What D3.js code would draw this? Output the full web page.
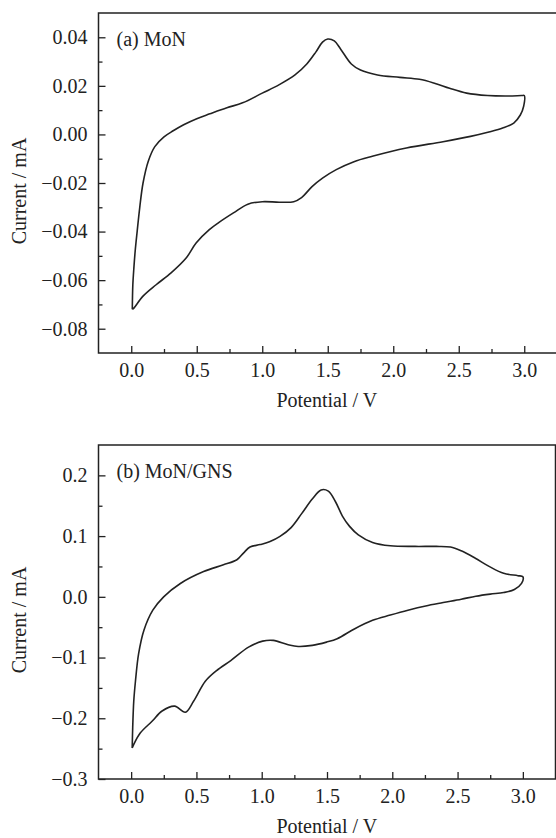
<!DOCTYPE html>
<html>
<head>
<meta charset="utf-8">
<script src="https://cdnjs.cloudflare.com/ajax/libs/d3/7.8.5/d3.min.js"></script>
<style>
  body { margin: 0; background: #fff; }
  svg text { font-family: "Liberation Serif", "Times New Roman", serif; fill: #222; }
</style>
</head>
<body>
<div id="myGraph"></div>
<script>
// panel (a) MoN : anodic sweep 0 -> 3 V, then cathodic sweep 3 -> 0 V
var monAnodicV   = [0.008, 0.012, 0.02, 0.03, 0.045, 0.065, 0.09, 0.13, 0.18, 0.25, 0.32, 0.4, 0.5, 0.6, 0.73, 0.85, 1.0, 1.13, 1.25, 1.34, 1.41, 1.46, 1.5, 1.55, 1.6, 1.68, 1.75, 1.88, 2.05, 2.2, 2.32, 2.43, 2.56, 2.72, 2.88, 2.98, 3.0];
var monAnodicI   = [-0.072, -0.062, -0.055, -0.048, -0.040, -0.030, -0.020, -0.011, -0.005, -0.001, 0.0015, 0.004, 0.0065, 0.0085, 0.011, 0.013, 0.017, 0.0205, 0.0245, 0.029, 0.034, 0.038, 0.0393, 0.0385, 0.035, 0.029, 0.0265, 0.0245, 0.0235, 0.0227, 0.021, 0.019, 0.017, 0.016, 0.0158, 0.016, 0.016];
var monCathodicV = [3.0, 2.995, 2.97, 2.92, 2.835, 2.73, 2.59, 2.38, 2.1, 1.84, 1.7, 1.565, 1.46, 1.38, 1.3, 1.24, 1.13, 1.0, 0.89, 0.78, 0.67, 0.596, 0.495, 0.419, 0.304, 0.19, 0.088, 0.02, 0.008];
var monCathodicI = [0.016, 0.0115, 0.008, 0.0047, 0.0026, 0.001, -0.0008, -0.003, -0.0056, -0.009, -0.0112, -0.0145, -0.018, -0.0215, -0.026, -0.0277, -0.0279, -0.0277, -0.0287, -0.0323, -0.0362, -0.0392, -0.0447, -0.0509, -0.057, -0.0619, -0.0667, -0.0715, -0.072];

// panel (b) MoN/GNS
var gnsAnodicV   = [0.008, 0.012, 0.02, 0.033, 0.057, 0.098, 0.166, 0.249, 0.377, 0.555, 0.707, 0.81, 0.86, 0.91, 0.988, 1.064, 1.14, 1.225, 1.306, 1.387, 1.455, 1.51, 1.564, 1.618, 1.673, 1.74, 1.849, 1.985, 2.175, 2.338, 2.446, 2.528, 2.636, 2.745, 2.853, 2.962, 3.0];
var gnsAnodicI   = [-0.249, -0.215, -0.172, -0.139, -0.094, -0.055, -0.022, 0.0, 0.022, 0.0416, 0.0527, 0.061, 0.072, 0.082, 0.086, 0.091, 0.0995, 0.114, 0.137, 0.161, 0.176, 0.174, 0.157, 0.133, 0.116, 0.102, 0.0895, 0.084, 0.083, 0.083, 0.082, 0.0757, 0.0635, 0.0497, 0.0387, 0.0348, 0.033];
var gnsCathodicV = [3.0, 2.99, 2.935, 2.853, 2.75, 2.64, 2.528, 2.39, 2.256, 2.12, 1.985, 1.849, 1.713, 1.578, 1.496, 1.387, 1.279, 1.197, 1.089, 1.007, 0.899, 0.763, 0.654, 0.568, 0.478, 0.415, 0.333, 0.237, 0.16, 0.071, 0.02, 0.008];
var gnsCathodicI = [0.033, 0.022, 0.012, 0.007, 0.0045, 0.001, -0.004, -0.0095, -0.015, -0.022, -0.030, -0.0387, -0.0525, -0.069, -0.0746, -0.08, -0.0818, -0.0785, -0.0718, -0.073, -0.0829, -0.105, -0.1215, -0.139, -0.172, -0.19, -0.18, -0.188, -0.205, -0.224, -0.243, -0.249];

// ticks
var xTicks      = [0, 0.5, 1.0, 1.5, 2.0, 2.5, 3.0];
var xMinorTicks = [0.25, 0.75, 1.25, 1.75, 2.25, 2.75];
var monYTicks      = [-0.08, -0.06, -0.04, -0.02, 0.00, 0.02, 0.04];
var monYMinorTicks = [-0.07, -0.05, -0.03, -0.01, 0.01, 0.03];
var gnsYTicks      = [-0.3, -0.2, -0.1, 0.0, 0.1, 0.2];
var gnsYMinorTicks = [-0.25, -0.15, -0.05, 0.05, 0.15];

var width = 556, height = 838;
var svg = d3.select("#myGraph").append("svg")
    .attr("width", width)
    .attr("height", height);

function panel(opt){
    var x = d3.scaleLinear().domain([-0.25, 3.25]).range([opt.left, opt.right]);
    var y = d3.scaleLinear().domain(opt.yDomain).range([opt.bottom, opt.top]);
    var g = svg.append("g");

    // frame
    g.append("rect")
        .attr("x", opt.left).attr("y", opt.top)
        .attr("width", opt.right - opt.left).attr("height", opt.bottom - opt.top)
        .attr("fill", "none").attr("stroke", "#222").attr("stroke-width", 1.5);

    // axes, ticks pointing inward
    g.append("g").attr("transform", "translate(0," + opt.bottom + ")")
        .call(d3.axisBottom(x).tickValues(xTicks).tickSize(-7).tickPadding(10).tickFormat(d3.format(".1f")));
    g.append("g").attr("transform", "translate(0," + opt.bottom + ")")
        .call(d3.axisBottom(x).tickValues(xMinorTicks).tickSize(-4).tickFormat(""));

    g.append("g").attr("transform", "translate(" + opt.left + ",0)")
        .call(d3.axisLeft(y).tickValues(opt.yTicks).tickSize(-7).tickPadding(11).tickFormat(d3.format(opt.fmt)));
    g.append("g").attr("transform", "translate(" + opt.left + ",0)")
        .call(d3.axisLeft(y).tickValues(opt.yMinor).tickSize(-4).tickFormat(""));

    g.selectAll(".domain").remove();
    g.selectAll(".tick line").attr("stroke", "#222").attr("stroke-width", 1.3);
    g.selectAll(".tick text").style("font-size", "20px").attr("fill", "#222");

    // CV loop
    var line = d3.line()
        .x(function(d){ return x(d[0]); })
        .y(function(d){ return y(d[1]); })
        .curve(d3.curveCatmullRom.alpha(0.5));
    var pts = d3.zip(opt.aV, opt.aI).concat(d3.zip(opt.cV, opt.cI).slice(1));
    g.append("path")
        .attr("d", line(pts))
        .attr("fill", "none").attr("stroke", "#222").attr("stroke-width", 1.6);

    // labels
    g.append("text")
        .attr("x", opt.left + 18).attr("y", opt.top + 33)
        .style("font-size", "20px")
        .text(opt.label);
    g.append("text")
        .attr("x", (opt.left + 555) / 2).attr("y", opt.bottom + 54)
        .attr("text-anchor", "middle")
        .style("font-size", "20px")
        .text("Potential / V");
    g.append("text")
        .attr("transform", "translate(" + 26 + "," + ((opt.top + opt.bottom) / 2 + 8) + ") rotate(-90)")
        .attr("text-anchor", "middle")
        .style("font-size", "20px")
        .text("Current / mA");
}

panel({ left: 98.5, right: 557, top: 13, bottom: 353, yDomain: [-0.09, 0.05],
        yTicks: monYTicks, yMinor: monYMinorTicks, fmt: ".2f", label: "(a) MoN",
        aV: monAnodicV, aI: monAnodicI, cV: monCathodicV, cI: monCathodicI });
panel({ left: 98.5, right: 555.5, top: 445, bottom: 779, yDomain: [-0.3, 0.25],
        yTicks: gnsYTicks, yMinor: gnsYMinorTicks, fmt: ".1f", label: "(b) MoN/GNS",
        aV: gnsAnodicV, aI: gnsAnodicI, cV: gnsCathodicV, cI: gnsCathodicI });
</script>
</body>
</html>
